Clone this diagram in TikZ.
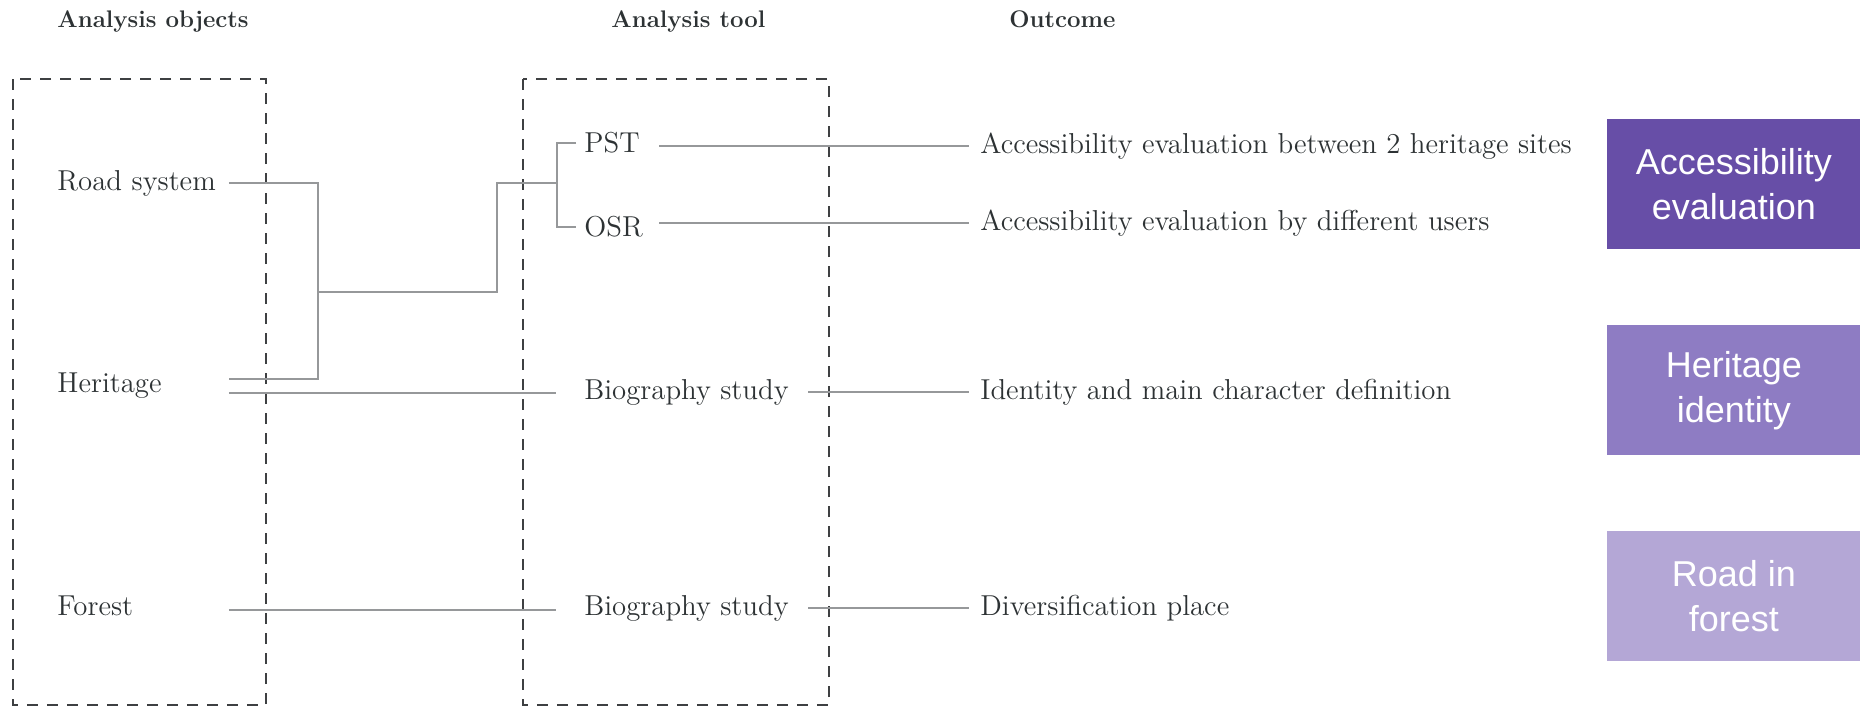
\documentclass[tikz,border=0pt]{standalone}
\usepackage{fontspec}
\setsansfont{Liberation Sans}
\usetikzlibrary{positioning, calc}
\definecolor{txtdark}{RGB}{45,50,52}
\definecolor{framegray}{RGB}{62,64,66}
\definecolor{linkgray}{RGB}{150,152,154}
\definecolor{boxdeep}{RGB}{103,78,167}
\definecolor{boxmid}{RGB}{142,124,195}
\definecolor{boxlight}{RGB}{180,167,214}

\begin{document}
\begin{tikzpicture}[x=0.5pt, y=-0.5pt,
  head/.style={font=\fontsize{12}{14}\selectfont\bfseries, text=txtdark, inner sep=0pt, anchor=base west},
  objtxt/.style={font=\fontsize{14.4}{17}\selectfont, text=txtdark, inner sep=0pt, anchor=west, text width=85.5pt},
  tooltxt/.style={font=\fontsize{14.4}{17}\selectfont, text=txtdark, inner sep=0pt, anchor=west},
  frame/.style={draw=framegray, line width=0.8pt, dash pattern=on 5.5pt off 4.5pt},
  link/.style={draw=linkgray, line width=0.8pt},
  outbox/.style={fill=#1, text=white, font=\sffamily\fontsize{18}{22.5}\selectfont, align=center,
                 minimum width=126.5pt, minimum height=65pt, inner sep=0pt, anchor=north west},
]
  \useasboundingbox (0,0) rectangle (1860,708);
  \fill[white] (0,0) rectangle (1860,708);

  % column heads
  \node[head] (hobj)  at (57,27)   {Analysis objects};
  \node[head] (htool) at (611,27)  {Analysis tool};
  \node[head] (hout)  at (1009,27) {Outcome};

  % dashed frames
  \draw[frame] (13,79) rectangle (266,705);
  \draw[frame] (523,79) rectangle (829,705);

  % analysis objects
  \node[objtxt] (road)   at (57,183) {Road system};
  \node[objtxt] (her)    at (57,386) {Heritage};
  \node[objtxt] (forest) at (57,606) {Forest};

  % analysis tools
  \node[tooltxt] (pst)  at (584,143) {PST};
  \node[tooltxt] (osr)  at (584,227) {OSR};
  \node[tooltxt] (bio1) at (584,392) {Biography study};
  \node[tooltxt] (bio2) at (584,608) {Biography study};

  % outcomes
  \node[tooltxt] (out1) at (980,146) {Accessibility evaluation between 2 heritage sites};
  \node[tooltxt] (out2) at (980,223) {Accessibility evaluation by different users};
  \node[tooltxt] (out3) at (980,392) {Identity and main character definition};
  \node[tooltxt] (out4) at (980,608) {Diversification place};

  % coloured tags
  \node[outbox=boxdeep]  (evalbox)   at (1607,119) {Accessibility\\evaluation};
  \node[outbox=boxmid]   (identbox)  at (1607,325) {Heritage\\identity};
  \node[outbox=boxlight] (forestbox) at (1607,531) {Road in\\forest};

  % connectors
  \coordinate (herup)  at ([yshift=3.5pt]her.east);
  \coordinate (herlow) at ([yshift=-3.5pt]her.east);
  \coordinate (fork)   at (318,292);
  \coordinate (rise)   at (497,292);
  \coordinate (split)  at (557,183);

  \draw[link] (road.east) -| (fork) |- (herup);
  \draw[link] (fork) -- (rise) |- (split);
  \draw[link] ([xshift=-4pt]pst.west) -| (split) |- ([xshift=-4pt]osr.west);
  \draw[link] (herlow) -- ([xshift=-14pt]herlow -| bio1.west);
  \draw[link] ([yshift=-2pt]forest.east) coordinate (fl) -- ([xshift=-14pt]fl -| bio2.west);

  \draw[link] ([xshift=9.5pt]pst.east |- out1.west)  -- ([xshift=-5.5pt]out1.west);
  \draw[link] ([xshift=8pt]osr.east |- out2.west)    -- ([xshift=-5.5pt]out2.west);
  \draw[link] ([xshift=9.5pt]bio1.east |- out3.west) -- ([xshift=-5.5pt]out3.west);
  \draw[link] ([xshift=9.5pt]bio2.east |- out4.west) -- ([xshift=-5.5pt]out4.west);
\end{tikzpicture}
\end{document}
